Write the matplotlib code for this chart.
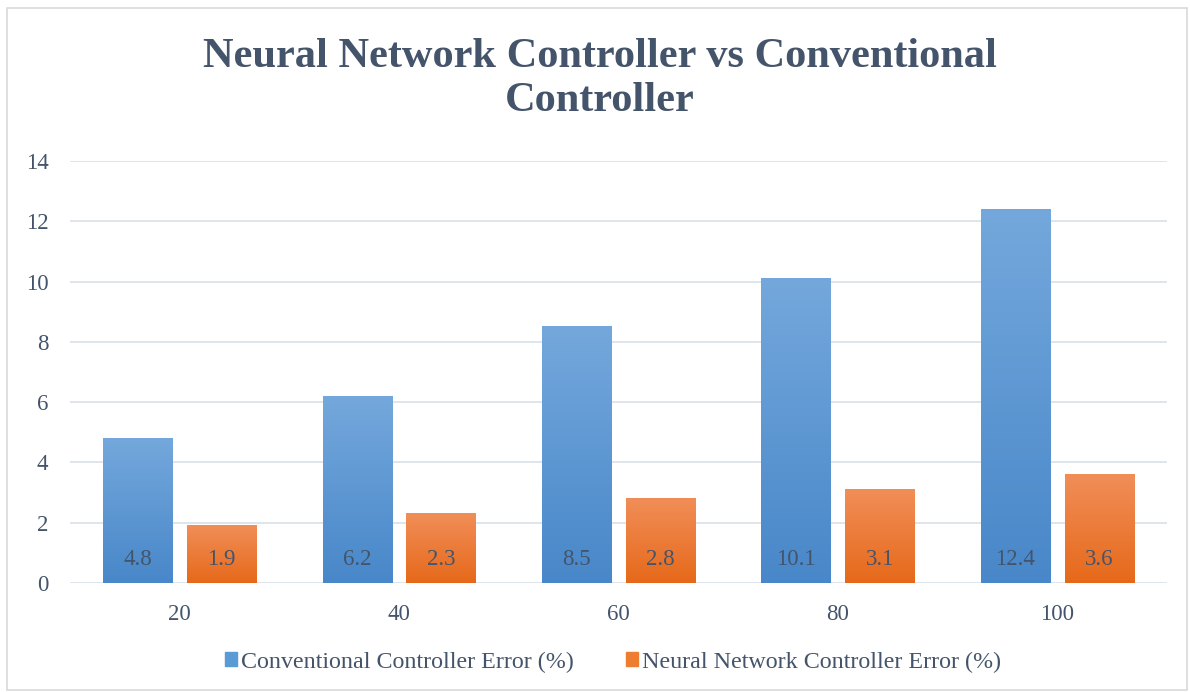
import numpy as np
import matplotlib
matplotlib.use("Agg")
import matplotlib.pyplot as plt
from matplotlib.patches import Patch, Rectangle

# chart values
categories = ["20", "40", "60", "80", "100"]
conventional = [4.8, 6.2, 8.5, 10.1, 12.4]
neural = [1.9, 2.3, 2.8, 3.1, 3.6]
series_names = ["Conventional Controller Error (%)", "Neural Network Controller Error (%)"]

TEXT = "#44546a"
GRID = "#dde2e9"
plt.rcParams["font.family"] = ["Liberation Serif", "DejaVu Serif"]


def hex_rgb(h):
    h = h.lstrip("#")
    return np.array([int(h[i:i + 2], 16) / 255 for i in (0, 2, 4)])


def gradient_bar(ax, x, h, w, top, bottom):
    t = np.linspace(0, 1, 128)[:, None, None]
    img = hex_rgb(bottom) * (1 - t) + hex_rgb(top) * t
    ax.imshow(img, extent=(x - w / 2, x + w / 2, 0, h), origin="lower",
              aspect="auto", zorder=3, interpolation="bicubic")


fig = plt.figure(figsize=(11.9, 6.92), dpi=100)
fig.patches.append(Rectangle((7 / 1190, 2 / 692), 1180 / 1190, 682 / 692,
                             transform=fig.transFigure, fill=False,
                             edgecolor="#d9d9d9", lw=1.2))
ax = fig.add_axes([70 / 1190, 1 - 583 / 692, 1097 / 1190, 422 / 692])

x = np.arange(len(categories))
w = 0.315
off = 0.191
for i in range(len(categories)):
    gradient_bar(ax, x[i] - off, conventional[i], w, "#74a8dc", "#4887c9")
    gradient_bar(ax, x[i] + off, neural[i], w, "#f18e58", "#e6691a")
    ax.text(x[i] - off, 0.78, f"{conventional[i]}", ha="center", va="center",
            fontsize=16.5, color=TEXT, zorder=4)
    ax.text(x[i] + off, 0.78, f"{neural[i]}", ha="center", va="center",
            fontsize=16.5, color=TEXT, zorder=4)

ax.set_xlim(-0.5, len(categories) - 0.5)
ax.set_ylim(0, 14)
ax.set_yticks(range(0, 15, 2))
ax.set_xticks(x)
ax.set_xticklabels(categories)
ax.grid(axis="y", color=GRID, lw=1.3, zorder=0)
ax.set_axisbelow(True)
for s in ax.spines.values():
    s.set_visible(False)
ax.tick_params(length=0, labelsize=16.5, colors=TEXT)
ax.tick_params(axis="y", pad=15.5)
ax.tick_params(axis="x", pad=15)

fig.text(0.504, 1 - 79 / 692, "Neural Network Controller vs Conventional\nController",
         ha="center", va="center", fontsize=30.5, fontweight="bold", color=TEXT,
         linespacing=1.22)

handles = [Patch(color="#5b9bd5"), Patch(color="#ed7d31")]
fig.legend(handles, series_names, loc="center", bbox_to_anchor=(0.515, 1 - 662 / 692),
           ncol=2, frameon=False, fontsize=17.3, labelcolor=TEXT,
           handlelength=0.5, handleheight=0.5, handletextpad=0.15, columnspacing=2.2)

fig.savefig("out.png", dpi=100)
